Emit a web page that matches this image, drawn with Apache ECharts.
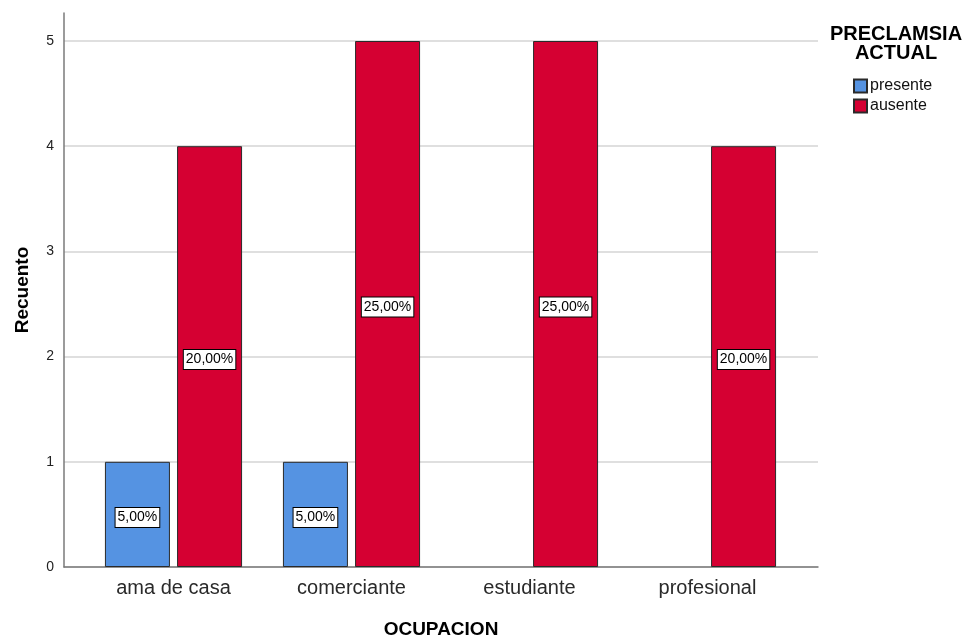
<!DOCTYPE html>
<html>
<head>
<meta charset="utf-8">
<script src="https://cdn.jsdelivr.net/npm/echarts@6/dist/echarts.min.js"></script>
<style>
html,body{margin:0;padding:0;background:#fff;}
#chart{width:968px;height:639px;}
</style>
</head>
<body>
<div id="chart"></div>
<script>
const categories = ['ama de casa', 'comerciante', 'estudiante', 'profesional'];
const presenteCounts = [1, 1, null, null];
const ausenteCounts = [4, 5, 5, 4];
const presentePct = ['5,00%', '5,00%', null, null];
const ausentePct = ['20,00%', '25,00%', '25,00%', '20,00%'];
const seriesNames = ['presente', 'ausente'];
const legendTitle = 'PRECLAMSIA\nACTUAL';
const xTitle = 'OCUPACION';
const yTitle = 'Recuento';

const FONT = 'Liberation Sans, Arial, sans-serif';
const chart = echarts.init(document.getElementById('chart'), null, {renderer: 'canvas'});

const labelStyle = {
  show: true,
  position: 'inside',
  offset: [0, 3],
  color: '#000',
  fontFamily: FONT,
  fontSize: 14,
  backgroundColor: '#fff',
  borderColor: '#000',
  borderWidth: 1,
  padding: [3, 2, 2, 2]
};

function mkSeries(name, counts, pcts, color) {
  return {
    name: name,
    type: 'bar',
    xAxisIndex: 2,
    yAxisIndex: 2,
    barWidth: 65,
    barGap: '11%',
    data: counts.map(function (v, i) { return v == null ? null : {value: v, pct: pcts[i]}; }),
    itemStyle: {color: color, borderColor: '#2a2a2a', borderWidth: 1},
    label: Object.assign({}, labelStyle, {
      formatter: function (p) { return p.data && p.data.pct ? p.data.pct : ''; }
    }),
    emphasis: {disabled: true}
  };
}

const gridBase = {outerBoundsMode: 'none', containLabel: false};

const option = {
  animation: false,
  backgroundColor: '#fff',
  title: {
    text: legendTitle,
    left: 896,
    top: 25,
    padding: 0,
    textAlign: 'center',
    textStyle: {fontFamily: FONT, fontSize: 20, fontWeight: 'bold', color: '#000', lineHeight: 19}
  },
  legend: {
    orient: 'vertical',
    left: 853,
    top: 78,
    padding: 0,
    itemWidth: 13,
    itemHeight: 13,
    itemGap: 4,
    icon: 'rect',
    data: seriesNames,
    textStyle: {fontFamily: FONT, fontSize: 16, color: '#111', padding: [0, 0, 0, -2]}
  },
  grid: [
    Object.assign({left: 64, right: 150, top: 13, bottom: 72}, gridBase),
    Object.assign({left: 64, right: 150, top: 41, bottom: 72}, gridBase),
    Object.assign({left: 84.5, right: 171.5, top: 41, bottom: 72}, gridBase)
  ],
  xAxis: [
    {gridIndex: 0, type: 'value', min: 0, max: 1, show: false},
    {gridIndex: 1, type: 'value', min: 0, max: 1,
      axisLine: {show: true, onZero: false, lineStyle: {color: '#7a7a7a', width: 1.5}},
      axisTick: {show: false}, axisLabel: {show: false}, splitLine: {show: false},
      name: xTitle, nameLocation: 'middle', nameGap: 53,
      nameTextStyle: {fontFamily: FONT, fontSize: 19, fontWeight: 'bold', color: '#000'}},
    {gridIndex: 2, type: 'category', data: categories,
      axisLine: {show: false}, axisTick: {show: false},
      axisLabel: {fontFamily: FONT, fontSize: 20, color: '#2a2a2a', margin: 11}}
  ],
  yAxis: [
    {gridIndex: 0, type: 'value', min: 0, max: 5.266,
      axisLine: {show: true, lineStyle: {color: '#7a7a7a', width: 1.5}},
      axisTick: {show: false}, axisLabel: {show: false}, splitLine: {show: false},
      name: yTitle, nameLocation: 'middle', nameGap: 32,
      nameTextStyle: {fontFamily: FONT, fontSize: 19, fontWeight: 'bold', color: '#000'}},
    {gridIndex: 1, type: 'value', min: 0, max: 5, interval: 1,
      axisLine: {show: false}, axisTick: {show: false},
      axisLabel: {fontFamily: FONT, fontSize: 14, color: '#222', margin: 10},
      splitLine: {show: true, lineStyle: {color: '#d4d4d4', width: 1.5}}},
    {gridIndex: 2, type: 'value', min: 0, max: 5, show: false}
  ],
  series: [
    mkSeries(seriesNames[0], presenteCounts, presentePct, '#5593e2'),
    mkSeries(seriesNames[1], ausenteCounts, ausentePct, '#d50032')
  ]
};
chart.setOption(option);
</script>
</body>
</html>
